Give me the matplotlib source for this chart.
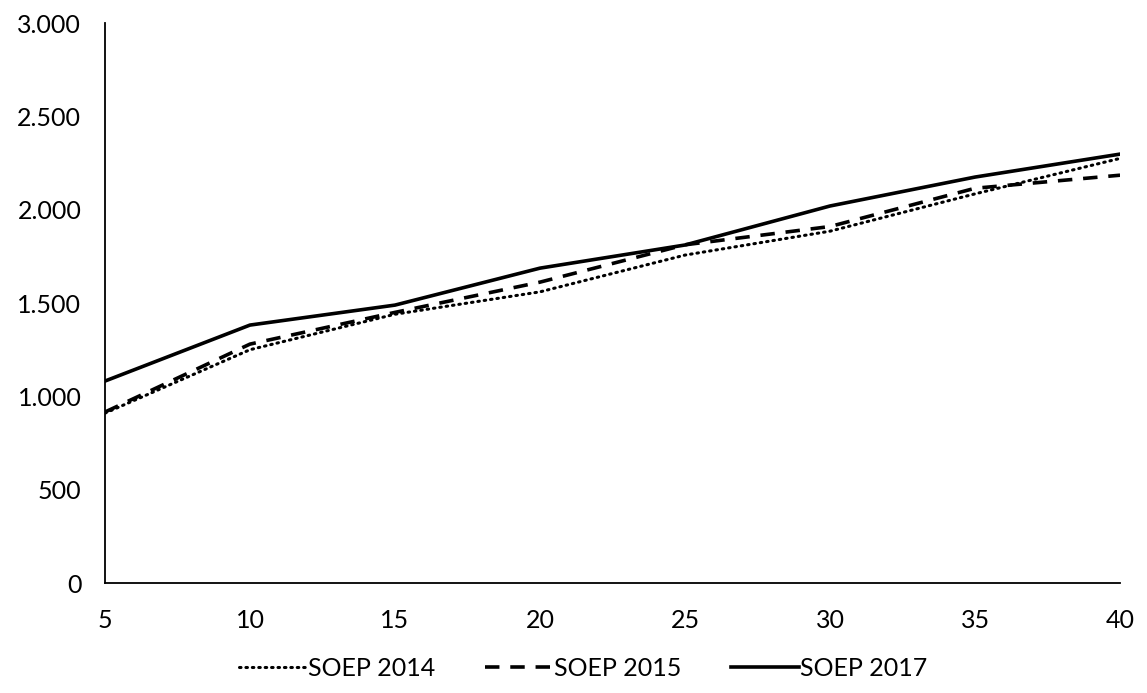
import numpy as np
import matplotlib.pyplot as plt
from matplotlib.ticker import FuncFormatter

x = [5, 10, 15, 20, 25, 30, 35, 40]
soep_2014 = [910, 1250, 1440, 1560, 1757, 1885, 2085, 2275]
soep_2015 = [916, 1280, 1450, 1612, 1812, 1910, 2115, 2185]
soep_2017 = [1082, 1382, 1489, 1687, 1811, 2020, 2175, 2298]

plt.rcParams['font.family'] = ['Lato', 'DejaVu Sans']

fig = plt.figure(figsize=(11.47, 6.93), dpi=100)
ax = fig.add_axes([0.0915, 0.1587, 0.885, 0.808])

ax.plot(x, soep_2014, color='black', lw=2.2, linestyle=(0, (0.5, 1.6)),
        dash_capstyle='round', label='SOEP 2014')
ax.plot(x, soep_2015, color='black', lw=2.6, linestyle=(0, (4.0, 3.0)),
        label='SOEP 2015')
ax.plot(x, soep_2017, color='black', lw=2.6, label='SOEP 2017')

ax.set_xlim(5, 40)
ax.set_ylim(0, 3000)
ax.set_xticks(x)
ax.set_yticks(np.arange(0, 3001, 500))
ax.yaxis.set_major_formatter(FuncFormatter(lambda v, p: f'{int(v):,}'.replace(',', '.')))

for s in ['top', 'right']:
    ax.spines[s].set_visible(False)
for s in ['left', 'bottom']:
    ax.spines[s].set_color('black')
    ax.spines[s].set_linewidth(1.3)

ax.tick_params(axis='both', length=0, labelsize=18, colors='black')
ax.tick_params(axis='x', pad=19)
ax.tick_params(axis='y', pad=17)

ax.legend(loc='center', bbox_to_anchor=(0.471, -0.152), ncol=3, frameon=False,
          fontsize=18, handlelength=2.7, handletextpad=0.05, columnspacing=2.0)

fig.savefig('out.png', dpi=100)
